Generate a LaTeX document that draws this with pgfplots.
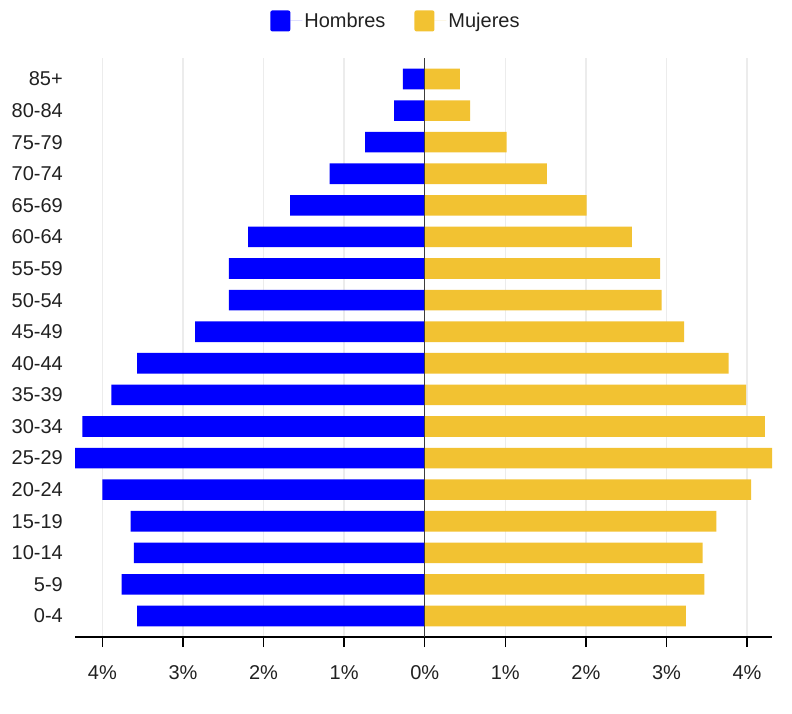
\documentclass[border=0pt]{standalone}
\usepackage{pgfplots}
\pgfplotsset{compat=1.18}
\usepackage{fontspec}
\setmainfont{Liberation Sans}
\definecolor{hblue}{RGB}{0,0,255}
\definecolor{myellow}{RGB}{242,194,50}
\definecolor{gridc}{RGB}{236,236,236}
\definecolor{txt}{RGB}{33,33,33}
\definecolor{zeroc}{RGB}{60,60,60}
\begin{document}
\begin{tikzpicture}
\useasboundingbox (0,0) rectangle (792pt,713pt);
\begin{axis}[
  at={(75pt,76pt)}, anchor=south west,
  scale only axis, width=697pt, height=579pt,
  xmin=-4.34, xmax=4.31, ymin=-0.665, ymax=17.665,
  axis x line*=bottom, axis y line*=left,
  y axis line style={draw=none},
  x axis line style={black, line width=2pt},
  xtick={-4,-3,-2,-1,0,1,2,3,4},
  xticklabels={4\%,3\%,2\%,1\%,0\%,1\%,2\%,3\%,4\%},
  ytick={0,...,17},
  yticklabels={0-4,5-9,10-14,15-19,20-24,25-29,30-34,35-39,40-44,45-49,50-54,55-59,60-64,65-69,70-74,75-79,80-84,85+},
  xtick align=outside, xtick pos=bottom,
  major tick length=10pt,
  xtick style={black, line width=1.5pt},
  ytick style={draw=none},
  xmajorgrids, grid style={gridc, line width=1.3pt},
  tick label style={font=\fontsize{20}{23}\selectfont, text=txt},
  xticklabel style={inner sep=0pt, yshift=-18pt},
  yticklabel style={inner sep=0pt, xshift=-12pt},
  legend columns=2,
  legend style={at={(axis description cs:0.4605,1.064)}, anchor=center,
    draw=none, fill=none, font=\fontsize{20}{23}\selectfont, text=txt,
    /tikz/every even column/.append style={column sep=27pt},
    nodes={inner sep=2pt}},
  legend image code/.code={\fill[#1, rounded corners=2pt] (0pt,-10.5pt) rectangle (20pt,10.5pt);
    \path (20pt,0pt) -- (32pt,0pt);},
]
\addplot[xbar, bar width=20.6pt, bar shift=0pt, fill=hblue, draw=none] coordinates {
(-3.57,0) (-3.76,1) (-3.61,2) (-3.65,3) (-4.00,4) (-4.34,5) (-4.25,6) (-3.89,7) (-3.57,8)
(-2.85,9) (-2.43,10) (-2.43,11) (-2.19,12) (-1.67,13) (-1.18,14) (-0.74,15) (-0.38,16) (-0.27,17)};
\addlegendentry{Hombres}
\addplot[xbar, bar width=20.6pt, bar shift=0pt, fill=myellow, draw=none] coordinates {
(3.24,0) (3.47,1) (3.45,2) (3.62,3) (4.05,4) (4.31,5) (4.22,6) (3.99,7) (3.77,8)
(3.22,9) (2.94,10) (2.92,11) (2.57,12) (2.01,13) (1.515,14) (1.017,15) (0.565,16) (0.436,17)};
\addlegendentry{Mujeres}
\draw[zeroc, line width=1.5pt] (axis cs:0,-0.665) -- (axis cs:0,17.665);
\end{axis}
\end{tikzpicture}
\end{document}
